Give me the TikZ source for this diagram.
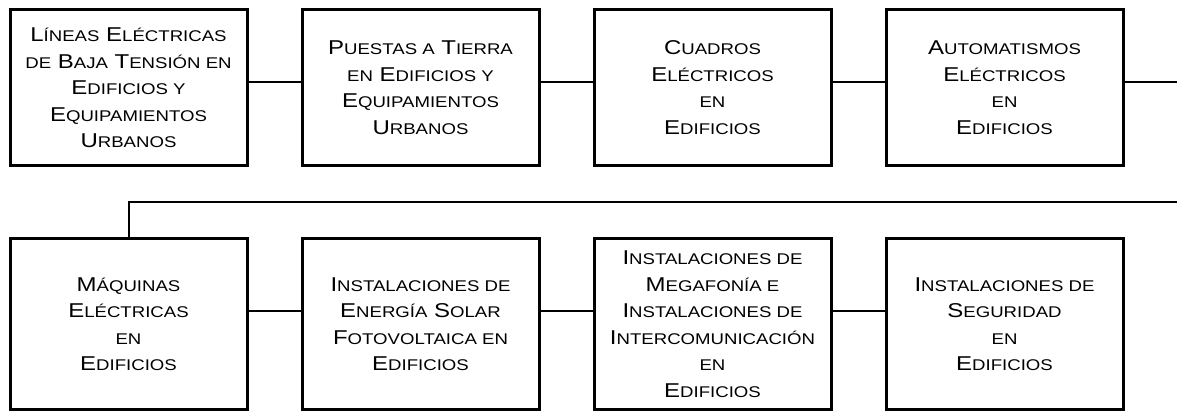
\documentclass[tikz,border=0pt]{standalone}
\usepackage{fontspec}
\setmainfont[FakeStretch=1.2]{Liberation Sans}
\usepackage{tikz}
\usetikzlibrary{positioning}

% fake small caps: smaller capitals
\newcommand{\lc}[1]{{\fontsize{15.5}{26.5}\selectfont #1}}

\tikzset{
  box/.style={draw, line width=3pt, outer sep=1.5pt, inner sep=0pt,
    minimum width=237pt, align=center,
    font=\fontsize{20}{26.5}\selectfont},
  toprow/.style={box, minimum height=155.5pt},
  botrow/.style={box, minimum height=171pt},
  link/.style={line width=2pt}
}

\begin{document}
\begin{tikzpicture}[x=1pt,y=1pt]
\useasboundingbox (0,0) rectangle (1177,-412);
% First row
\node[toprow, anchor=north west] (b1) at (8.5,-8.5)
  {L\lc{ÍNEAS} E\lc{LÉCTRICAS}\\ \lc{DE} B\lc{AJA} T\lc{ENSIÓN EN}\\ E\lc{DIFICIOS Y}\\ E\lc{QUIPAMIENTOS}\\ U\lc{RBANOS}};
\node[toprow, right=52pt of b1] (b2)
  {P\lc{UESTAS A} T\lc{IERRA}\\ \lc{EN} E\lc{DIFICIOS Y}\\ E\lc{QUIPAMIENTOS}\\ U\lc{RBANOS}};
\node[toprow, right=52pt of b2] (b3)
  {C\lc{UADROS}\\ E\lc{LÉCTRICOS}\\ \lc{EN}\\ E\lc{DIFICIOS}};
\node[toprow, right=52pt of b3] (b4)
  {A\lc{UTOMATISMOS}\\ E\lc{LÉCTRICOS}\\ \lc{EN}\\ E\lc{DIFICIOS}};
% Second row
\node[botrow, below=70pt of b1] (b5)
  {M\lc{ÁQUINAS}\\ E\lc{LÉCTRICAS}\\ \lc{EN}\\ E\lc{DIFICIOS}};
\node[botrow, right=52pt of b5] (b6)
  {I\lc{NSTALACIONES DE}\\ E\lc{NERGÍA} S\lc{OLAR}\\ F\lc{OTOVOLTAICA EN}\\ E\lc{DIFICIOS}};
\node[botrow, right=52pt of b6] (b7)
  {I\lc{NSTALACIONES DE}\\ M\lc{EGAFONÍA E}\\ I\lc{NSTALACIONES DE}\\ I\lc{NTERCOMUNICACIÓN}\\ \lc{EN}\\ E\lc{DIFICIOS}};
\node[botrow, right=52pt of b7] (b8)
  {I\lc{NSTALACIONES DE}\\ S\lc{EGURIDAD}\\ \lc{EN}\\ E\lc{DIFICIOS}};
% Connectors
\coordinate (e1) at (1177,-82);
\coordinate (e2) at (1177,-202);
\draw[link] ([yshift=5.75pt]b1.east) -- ([yshift=5.75pt]b2.west);
\draw[link] ([yshift=5.75pt]b2.east) -- ([yshift=5.75pt]b3.west);
\draw[link] ([yshift=5.75pt]b3.east) -- ([yshift=5.75pt]b4.west);
\draw[link] ([yshift=5.75pt]b4.east) -- (e1);
\draw[link] (e2) -| (b5.north);
\draw[link] ([yshift=13pt]b5.east) -- ([yshift=13pt]b6.west);
\draw[link] ([yshift=13pt]b6.east) -- ([yshift=13pt]b7.west);
\draw[link] ([yshift=13pt]b7.east) -- ([yshift=13pt]b8.west);
\end{tikzpicture}
\end{document}
